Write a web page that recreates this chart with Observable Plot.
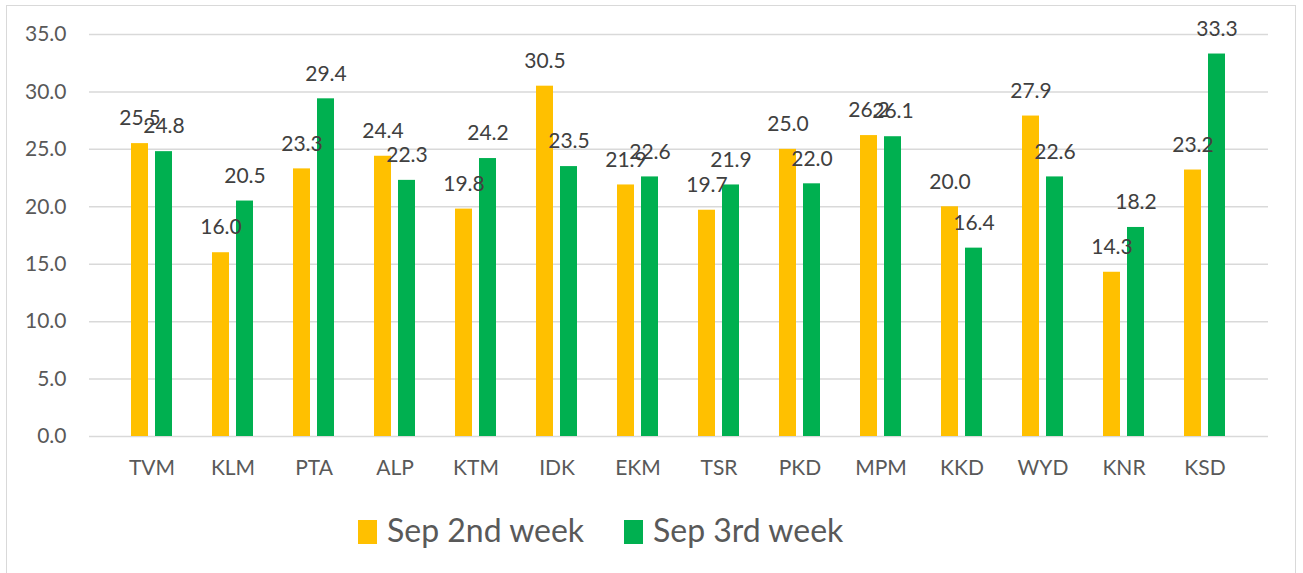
<!DOCTYPE html>
<html>
<head>
<meta charset="utf-8">
<script src="https://cdn.jsdelivr.net/npm/d3@7"></script>
<script src="https://cdn.jsdelivr.net/npm/@observablehq/plot@0.6"></script>
<style>
  html, body { margin: 0; padding: 0; background: #fff; width: 1303px; height: 573px; overflow: hidden; }
  #frame { position: absolute; left: 6px; top: 5px; width: 1290px; height: 600px; border: 1.5px solid #d9d9d9; box-sizing: border-box; }
  #chart { position: absolute; left: 0; top: 0; }
  .sw { position: absolute; width: 19px; height: 24px; }
  .lt { position: absolute; font-family: Lato, sans-serif; font-size: 32px; line-height: 32px; color: #595959; white-space: nowrap; }
</style>
</head>
<body>
<div id="frame"></div>
<div id="chart"></div>
<div class="sw" style="left:358px;top:520px;background:#FFC000"></div>
<div class="lt" style="left:387px;top:514px">Sep 2nd week</div>
<div class="sw" style="left:624px;top:520px;background:#00B050"></div>
<div class="lt" style="left:653px;top:514px">Sep 3rd week</div>
<script>
const districts = ["TVM","KLM","PTA","ALP","KTM","IDK","EKM","TSR","PKD","MPM","KKD","WYD","KNR","KSD"];
const sep2nd = [25.5,16.0,23.3,24.4,19.8,30.5,21.9,19.7,25.0,26.2,20.0,27.9,14.3,23.2];
const sep3rd = [24.8,20.5,29.4,22.3,24.2,23.5,22.6,21.9,22.0,26.1,16.4,22.6,18.2,33.3];
const yTicks = [0,5,10,15,20,25,30,35];

const d2 = districts.map((d, i) => ({district: d, value: sep2nd[i]}));
const d3w = districts.map((d, i) => ({district: d, value: sep3rd[i]}));
const fmt = d3.format(".1f");

const chart = Plot.plot({
  width: 1303,
  height: 490,
  marginLeft: 89,
  marginRight: 35,
  marginTop: 34,
  marginBottom: 54,
  style: {fontFamily: "Lato, sans-serif", fontSize: "21px", background: "transparent", overflow: "visible"},
  x: {domain: districts, padding: 0.489, align: 0.5, label: null},
  y: {domain: [0, 35], label: null},
  marks: [
    Plot.ruleY(yTicks, {stroke: "#d9d9d9", strokeWidth: 1.5}),
    Plot.axisY({ticks: yTicks, tickFormat: ".1f", tickSize: 0, tickPadding: 23, color: "#595959", label: null}),
    Plot.axisX({tickSize: 0, tickPadding: 24, color: "#595959", label: null}),
    Plot.barY(d2, {x: "district", y: "value", fill: "#FFC000", insetRight: 24}),
    Plot.barY(d3w, {x: "district", y: "value", fill: "#00B050", insetLeft: 24}),
    Plot.text(d2, {x: "district", y: "value", text: d => fmt(d.value), dx: -12, dy: -25, fill: "#404040"}),
    Plot.text(d3w, {x: "district", y: "value", text: d => fmt(d.value), dx: 12, dy: -25, fill: "#404040"})
  ]
});
document.getElementById("chart").appendChild(chart);
</script>
</body>
</html>
